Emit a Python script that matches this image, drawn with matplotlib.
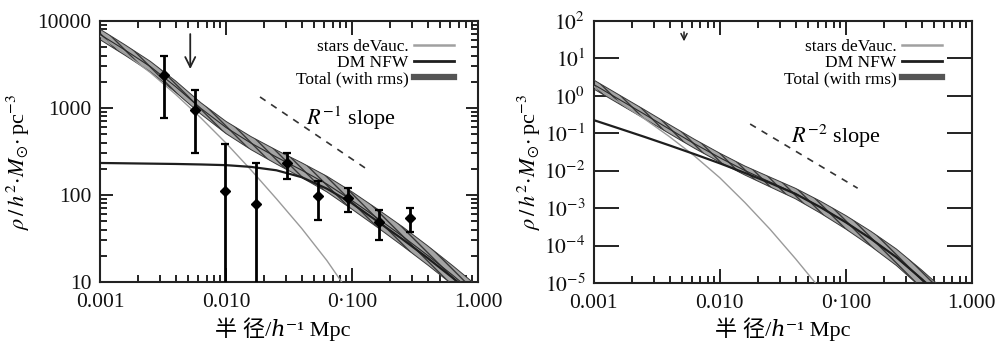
import numpy as np
import matplotlib
matplotlib.use('Agg')
import matplotlib.pyplot as plt
from matplotlib.lines import Line2D
from matplotlib.ticker import FixedLocator, FixedFormatter, LogLocator, NullFormatter, NullLocator

plt.rcParams['font.family'] = ['Liberation Serif', 'DejaVu Serif', 'Noto Sans CJK SC']
plt.rcParams['mathtext.fontset'] = 'stix'

# radius grid the curves were read on (h^-1 Mpc)
r_grid = [0.001, 0.00158, 0.00251, 0.00398, 0.00631, 0.01, 0.0158, 0.0251,
          0.0398, 0.0631, 0.1, 0.158, 0.251, 0.398, 0.631, 1.0]

# ---- left panel ----
obs_r = [0.00322, 0.00568, 0.0099, 0.0174, 0.0307, 0.054, 0.093, 0.164, 0.29]
obs_rho = [2400, 950, 112, 79, 234, 97, 92, 49, 54]
obs_hi = [4000, 1610, 385, 234, 303, 145, 120, 68, 71]
obs_lo = [770, 304, 5, 5, 152, 51, 63, 30, 38]

# log10 of density along r_grid
L_tot_log = [3.845, 3.665, 3.475, 3.245, 2.995, 2.775, 2.595, 2.435,
             2.285, 2.125, 1.935, 1.735, 1.525, 1.305, 1.075, 0.835]
L_tot_hi_log = [3.905, 3.725, 3.535, 3.31, 3.06, 2.845, 2.67, 2.515,
                2.37, 2.215, 2.035, 1.84, 1.635, 1.415, 1.185, 0.945]
L_tot_lo_log = [3.785, 3.605, 3.415, 3.18, 2.93, 2.705, 2.52, 2.355,
                2.2, 2.035, 1.835, 1.63, 1.415, 1.195, 0.965, 0.725]
L_star_log = [3.826, 3.626, 3.406, 3.156, 2.886, 2.596, 2.286, 1.956, 1.616, 1.246, 0.826]
L_dm = [233, 231, 229, 227, 224, 220, 210, 192, 160, 118, 80, 50, 31, 18.8, 11.1, 6.4]
L_slope_r = [0.0186, 0.127]
L_slope = [1337, 204]

# ---- right panel ----
R_tot_log = [0.301, -0.091, -0.487, -0.890, -1.284, -1.654, -1.996, -2.305,
             -2.611, -2.978, -3.38, -3.82, -4.31, -4.89, -5.5]
R_tot_hi_log = [0.421, 0.029, -0.367, -0.77, -1.164, -1.534, -1.876, -2.175,
                -2.471, -2.818, -3.2, -3.62, -4.09, -4.65, -5.25]
R_tot_lo_log = [0.181, -0.211, -0.607, -1.01, -1.404, -1.774, -2.116, -2.435,
                -2.751, -3.138, -3.56, -4.02, -4.53, -5.13, -5.75]
R_star_log = [0.25, -0.17, -0.61, -1.09, -1.61, -2.19, -2.85, -3.57, -4.35, -5.17, -6.0]
R_dm_log = [-0.65, -0.87, -1.094, -1.324, -1.56, -1.804, -2.06, -2.33,
            -2.62, -2.98, -3.38, -3.82, -4.31, -4.89, -5.5]
R_slope_r = [0.0174, 0.124]
R_slope = [0.176, 0.0034]

xticks = [0.001, 0.01, 0.1, 1.0]
xtick_labels = ['0.001', '0.010', '0·100', '1.000']
legend_labels = ['stars deVauc.', 'DM NFW', 'Total (with rms)']

fig = plt.figure(figsize=(10.03, 3.43), dpi=100)
axL = fig.add_axes([0.0997, 0.178, 0.377, 0.761])
axR = fig.add_axes([0.592, 0.175, 0.377, 0.764])

band_face = '#a4a4a4'
band_edge = '#383838'


def draw_band(ax, mid, hi, lo):
    r = r_grid[:len(mid)]
    hi = 10.0 ** np.array(hi)
    lo = 10.0 ** np.array(lo)
    mid = 10.0 ** np.array(mid)
    ax.fill_between(r, lo, hi, facecolor=band_face, edgecolor=band_edge,
                    hatch='\\\\\\\\', linewidth=0.0, zorder=2)
    ax.plot(r, hi, color=band_edge, lw=0.7, zorder=3)
    ax.plot(r, lo, color=band_edge, lw=0.7, zorder=3)
    ax.plot(r, mid, color='#2a2a2a', lw=0.8, zorder=3)


for ax in (axL, axR):
    ax.set_xscale('log')
    ax.set_yscale('log')

# left
draw_band(axL, L_tot_log, L_tot_hi_log, L_tot_lo_log)
axL.plot(r_grid[:len(L_star_log)], 10.0 ** np.array(L_star_log), color='#9a9a9a', lw=1.0, zorder=4)
axL.plot(r_grid, L_dm, color='#1e1e1e', lw=1.6, zorder=4)
axL.plot(L_slope_r, L_slope, color='#333333', lw=1.2, ls=(0, (4, 4)))
yerr = [np.array(obs_rho) - np.array(obs_lo), np.array(obs_hi) - np.array(obs_rho)]
axL.errorbar(obs_r, obs_rho, yerr=yerr, fmt='D', color='black', ms=5.5,
             elinewidth=2.0, capsize=3, capthick=1.6, zorder=6)
axL.annotate('', xy=(0.0052, 2600), xytext=(0.0052, 7600),
             arrowprops=dict(arrowstyle='->', color='#222222', lw=1.3,
                             mutation_scale=18))
axL.text(0.043, 770, r'$R^{-1}$ slope', fontsize=16, va='center')
axL.set_ylim(10, 10000)
axL.yaxis.set_major_locator(FixedLocator([10, 100, 1000, 10000]))
axL.yaxis.set_major_formatter(FixedFormatter(['10', '100', '1000', '10000']))
axL.yaxis.set_minor_locator(LogLocator(base=10, subs=np.arange(2, 10)))
axL.yaxis.set_minor_formatter(NullFormatter())

# right
draw_band(axR, R_tot_log, R_tot_hi_log, R_tot_lo_log)
axR.plot(r_grid[:len(R_star_log)], 10.0 ** np.array(R_star_log), color='#9a9a9a', lw=1.0, zorder=4)
axR.plot(r_grid[:len(R_dm_log)], 10.0 ** np.array(R_dm_log), color='#1e1e1e', lw=1.6, zorder=4)
axR.plot(R_slope_r, R_slope, color='#333333', lw=1.2, ls=(0, (4, 4)))
axR.annotate('', xy=(0.0052, 24), xytext=(0.0052, 60),
             arrowprops=dict(arrowstyle='->', color='#222222', lw=1.1,
                             mutation_scale=11))
axR.text(0.037, 0.08, r'$R^{-2}$ slope', fontsize=16, va='center')
axR.set_ylim(1e-5, 1e2)
rt = [10.0 ** k for k in range(-5, 3)]
axR.yaxis.set_major_locator(FixedLocator(rt))
axR.yaxis.set_major_formatter(FixedFormatter([r'$10^{%d}$' % k for k in range(-5, 3)]))
axR.yaxis.set_minor_locator(NullLocator())

handles = [Line2D([], [], color='#a0a0a0', lw=1.8),
           Line2D([], [], color='#1e1e1e', lw=2.0),
           Line2D([], [], color='#555555', lw=4.5)]

for ax, ylc, xlc, anchor in [(axL, (-0.18, 0.46), (0.484, -0.135), (0.96, 0.965)),
                             (axR, (-0.135, 0.46), (0.50, -0.132), (0.945, 0.965))]:
    ax.set_xlim(0.001, 1.0)
    ax.xaxis.set_major_locator(FixedLocator(xticks))
    ax.xaxis.set_major_formatter(FixedFormatter(xtick_labels))
    ax.xaxis.set_minor_locator(LogLocator(base=10, subs=np.arange(2, 10)))
    ax.xaxis.set_minor_formatter(NullFormatter())
    ax.tick_params(which='both', direction='in', top=True, right=True,
                   labelsize=15.5, width=1.3, colors='#111111')
    ax.tick_params(axis='x', which='major', length=10, pad=8)
    ax.tick_params(axis='x', which='minor', length=5)
    ax.tick_params(axis='y', which='minor', length=5)
    for s in ax.spines.values():
        s.set_linewidth(1.5)
        s.set_color('#222222')
    ax.set_ylabel(r'$\rho\,/\,h^{2}\!\cdot\! M_{\odot}\!\cdot$pc$^{-3}$', fontsize=16)
    ax.yaxis.set_label_coords(*ylc)
    ax.set_xlabel('半 径/ℎ⁻¹ Mpc', fontsize=16)
    ax.xaxis.set_label_coords(*xlc)
    ax.legend(handles, legend_labels, loc='upper right', bbox_to_anchor=anchor,
              frameon=False, markerfirst=False, fontsize=12.5, handlelength=2.3,
              handletextpad=0.35, labelspacing=0.0, borderpad=0.0)

axL.tick_params(axis='y', which='major', length=9, pad=6)
axR.tick_params(axis='y', which='major', length=18, pad=6)

fig.savefig('out.png', dpi=100)
